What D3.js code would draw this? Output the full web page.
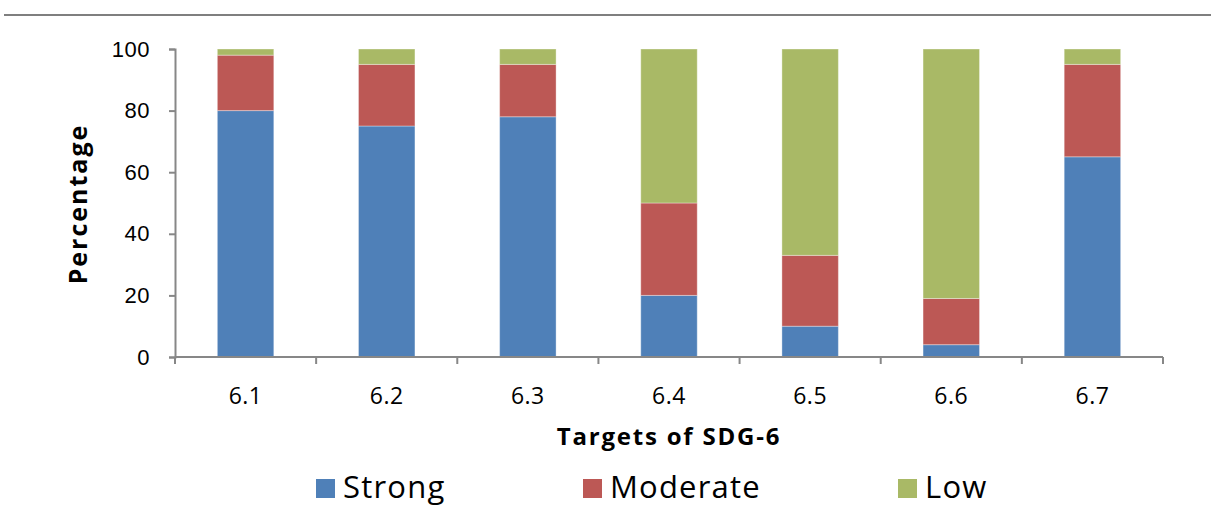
<!DOCTYPE html>
<html>
<head>
<meta charset="utf-8">
<script src="https://cdn.jsdelivr.net/npm/d3@7"></script>
<style>
  html, body { margin: 0; padding: 0; background: #fff; }
  svg { display: block; font-family: "Open Sans", Lato, sans-serif; }
</style>
</head>
<body>
<svg id="chart" width="1211" height="524"></svg>
<script>
// SDG-6 targets and the share of each linkage strength (percent)
const targets = ["6.1", "6.2", "6.3", "6.4", "6.5", "6.6", "6.7"];
const strong   = [80, 75, 78, 20, 10, 4, 65];
const moderate = [18, 20, 17, 30, 23, 15, 30];
const low      = [2, 5, 5, 50, 67, 81, 5];
const seriesNames = ["Strong", "Moderate", "Low"];
const seriesColors = ["#4F80B8", "#BC5855", "#A9B966"];
const yTicks = [0, 20, 40, 60, 80, 100];

const rows = targets.map((t, i) => ({
  target: t, Strong: strong[i], Moderate: moderate[i], Low: low[i]
}));

const svg = d3.select("#chart");
const margin = { left: 175, right: 48, top: 49, bottom: 167 };
const W = 1211, H = 524;
const axisColor = "#878787";

// thin rule across the top
svg.append("line")
  .attr("x1", 4).attr("x2", W).attr("y1", 15).attr("y2", 15)
  .attr("stroke", "#7f7f7f").attr("stroke-width", 2);

const x = d3.scaleBand()
  .domain(targets)
  .range([margin.left, W - margin.right])
  .paddingInner(0.6).paddingOuter(0.3);

const y = d3.scaleLinear()
  .domain([0, 100])
  .range([H - margin.bottom, margin.top]);

const stack = d3.stack().keys(seriesNames);
const layers = stack(rows);

const g = svg.append("g");
g.selectAll("g.layer")
  .data(layers)
  .join("g")
  .attr("class", "layer")
  .attr("fill", (d, i) => seriesColors[i])
  .selectAll("rect")
  .data(d => d)
  .join("rect")
  .attr("x", d => x(d.data.target))
  .attr("width", x.bandwidth())
  .attr("y", d => y(d[1]))
  .attr("height", d => y(d[0]) - y(d[1]))
  .attr("stroke", "rgba(255,255,255,0.35)")
  .attr("stroke-width", 1);

// y axis
const yAxis = svg.append("g")
  .attr("transform", `translate(${margin.left},0)`)
  .call(d3.axisLeft(y).tickValues(yTicks).tickSize(6).tickPadding(19));
yAxis.select(".domain").attr("stroke", axisColor).attr("stroke-width", 2);
yAxis.selectAll(".tick line").attr("stroke", axisColor).attr("stroke-width", 2);
yAxis.selectAll(".tick text")
  .attr("font-size", 22).attr("fill", "#000")
  .attr("letter-spacing", 0.5);

// x axis: ticks sit on the category boundaries
const xAxisG = svg.append("g")
  .attr("transform", `translate(0,${y(0)})`);
xAxisG.append("line")
  .attr("x1", margin.left).attr("x2", W - margin.right)
  .attr("stroke", axisColor).attr("stroke-width", 2);
const bounds = d3.range(targets.length + 1).map(i => margin.left + i * (W - margin.right - margin.left) / targets.length);
xAxisG.selectAll("line.tick")
  .data(bounds)
  .join("line")
  .attr("class", "tick")
  .attr("x1", d => d).attr("x2", d => d)
  .attr("y1", 0).attr("y2", 7)
  .attr("stroke", axisColor).attr("stroke-width", 2);
xAxisG.selectAll("text")
  .data(targets)
  .join("text")
  .attr("x", d => x(d) + x.bandwidth() / 2)
  .attr("y", 404 - y(0))
  .attr("text-anchor", "middle")
  .attr("font-size", 23)
  .attr("letter-spacing", 0.5)
  .attr("fill", "#000")
  .text(d => d);

// axis titles
svg.append("text")
  .attr("x", 669).attr("y", 445)
  .attr("text-anchor", "middle")
  .attr("font-size", 24).attr("font-weight", "bold")
  .attr("letter-spacing", 1.8)
  .text("Targets of SDG-6");

svg.append("text")
  .attr("transform", `translate(87,204) rotate(-90)`)
  .attr("text-anchor", "middle")
  .attr("font-size", 25).attr("font-weight", "bold")
  .attr("letter-spacing", 2)
  .text("Percentage");

// legend
const legendX = [316, 583, 898];
const legend = svg.append("g");
seriesNames.forEach((name, i) => {
  legend.append("rect")
    .attr("x", legendX[i]).attr("y", 479)
    .attr("width", 19).attr("height", 19)
    .attr("fill", seriesColors[i]);
  legend.append("text")
    .attr("x", legendX[i] + 27).attr("y", 498)
    .attr("font-size", 31).attr("fill", "#000")
    .attr("letter-spacing", 1.2)
    .text(name);
});
</script>
</body>
</html>
